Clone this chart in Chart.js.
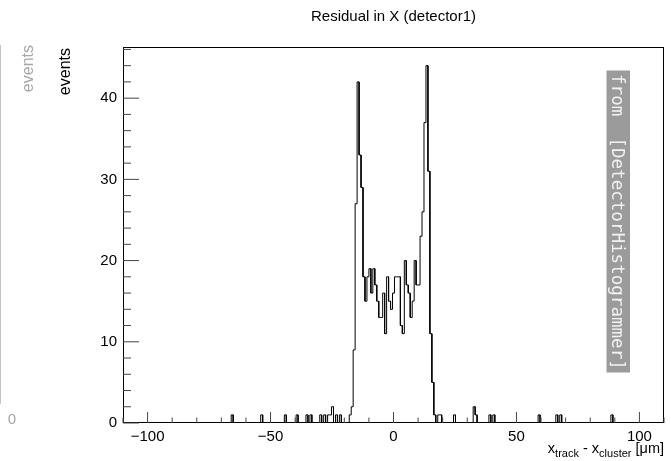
<!DOCTYPE html>
<html lang="en">
<head>
<meta charset="UTF-8">
<title>Residual in X (detector1)</title>
<script src="https://cdn.jsdelivr.net/npm/chart.js"></script>
<style>
    html, body { margin: 0; padding: 0; background: #ffffff; }
    #wrap { width: 671px; height: 461px; }
</style>
</head>
<body>
<div id="wrap"><canvas id="residualChart" width="671" height="461"></canvas></div>
<script>
// binning of the residual histogram (µm)
var xMin = -110;
var xMax = 110;
var binWidth = 0.8;
var yMax = 46.3;

// bins of the central part, starting at bin index 115
var coreFirstBin = 115;
var coreCounts = [1, 2, 9, 27, 42, 33, 29, 18, 15, 18,
                  19, 16, 19, 17, 15, 13, 13, 16, 11, 18,
                  15, 14, 16, 18, 18, 18, 12, 11, 20, 17,
                  16, 13, 15, 20, 17, 17, 23, 26, 37, 44,
                  31, 11, 5, 1, 0, 1, 1];

// single entries out in the tails: position (µm) and count
var tailX = [-65.7, -54, -43.8, -39.5, -35.2, -33.5, -29.8, -28.2, -26.8, -25.7, -24.7, -23.5, -21.4,
             25.1, 32.5, 33.3, 39, 40.6, 59, 66, 67.8, 89];
var tailN = [1, 1, 1, 1, 1, 1, 1, 1, 1, 1, 2, 1, 1,
             1, 2, 1, 1, 1, 1, 1, 1, 1];

var xTicks = [-100, -50, 0, 50, 100];
var yTicks = [0, 10, 20, 30, 40];

var FONT = '"Liberation Sans", Arial, Helvetica, sans-serif';

// fill the bins and turn them into an outline (two points per bin)
var nBins = Math.round((xMax - xMin) / binWidth);
var counts = [];
for (var i = 0; i < nBins; i++) counts.push(0);
coreCounts.forEach(function (c, i) { counts[coreFirstBin + i] = c; });
tailX.forEach(function (x, i) {
    counts[Math.floor((x - xMin) / binWidth)] += tailN[i];
});
var histPoints = [];
counts.forEach(function (c, i) {
    var lo = xMin + i * binWidth;
    histPoints.push({ x: lo, y: c });
    histPoints.push({ x: lo + binWidth, y: c });
});

// ROOT style frame, inner ticks and the extra texts
var rootStyle = {
    id: 'rootStyle',
    afterDatasetsDraw: function (chart) {
        var ctx = chart.ctx;
        var a = chart.chartArea;
        var xs = chart.scales.x;
        var ys = chart.scales.y;
        ctx.save();
        ctx.strokeStyle = '#000';
        ctx.lineWidth = 1;
        ctx.strokeRect(a.left + 0.5, a.top + 0.5, a.right - a.left - 1, a.bottom - a.top - 1);

        ctx.strokeStyle = '#444';
        ctx.beginPath();
        for (var v = 0; v <= yMax; v += 2) {
            var py = ys.getPixelForValue(v);
            var len = (v % 10 === 0) ? 16 : 8;
            ctx.moveTo(a.left, py);
            ctx.lineTo(a.left + len, py);
        }
        for (var u = xMin; u <= xMax; u += 10) {
            var px = xs.getPixelForValue(u);
            var l2 = (u % 50 === 0) ? 11 : 5.5;
            ctx.moveTo(px, a.bottom);
            ctx.lineTo(px, a.bottom - l2);
        }
        ctx.stroke();
        ctx.restore();
    },
    afterDraw: function (chart) {
        var ctx = chart.ctx;
        var a = chart.chartArea;
        ctx.save();

        // title
        ctx.fillStyle = '#000';
        ctx.font = '15px ' + FONT;
        ctx.textAlign = 'center';
        ctx.textBaseline = 'alphabetic';
        ctx.fillText('Residual in X (detector1)', (a.left + a.right) / 2, 21);

        // y title
        ctx.font = '16px ' + FONT;
        ctx.save();
        ctx.translate(70, a.top + 1);
        ctx.rotate(-Math.PI / 2);
        ctx.textAlign = 'right';
        ctx.fillText('events', 0, 0);
        ctx.restore();

        // leftovers of the neighbouring pad
        ctx.fillStyle = '#a6a6a6';
        ctx.save();
        ctx.translate(33, 45);
        ctx.rotate(-Math.PI / 2);
        ctx.textAlign = 'right';
        ctx.fillText('events', 0, 0);
        ctx.restore();
        ctx.font = '15px ' + FONT;
        ctx.textAlign = 'center';
        ctx.fillText('0', 12, 424);
        ctx.strokeStyle = '#c4c4c4';
        ctx.lineWidth = 1;
        ctx.beginPath();
        ctx.moveTo(0.5, 45);
        ctx.lineTo(0.5, 404);
        ctx.stroke();

        // x title with subscripts
        var parts = [
            ['x', 14.5, 0], ['track', 11, 4], [' - x', 14.5, 0], ['cluster', 11, 4], [' [\u03bcm]', 14.5, 0]
        ];
        var total = 0;
        parts.forEach(function (p) {
            ctx.font = p[1] + 'px ' + FONT;
            total += ctx.measureText(p[0]).width;
        });
        var cx = a.right - total;
        ctx.fillStyle = '#000';
        ctx.textAlign = 'left';
        parts.forEach(function (p) {
            ctx.font = p[1] + 'px ' + FONT;
            ctx.fillText(p[0], cx, 453 + p[2]);
            cx += ctx.measureText(p[0]).width;
        });

        // module label box
        ctx.fillStyle = '#9b9b9b';
        ctx.fillRect(606.5, 70.5, 23.5, 302);
        var label = 'from  [DetectorHistogrammer]';
        ctx.font = '17px "DejaVu Sans Mono", monospace';
        var w = ctx.measureText(label).width;
        var size = 17 * 296 / w;
        ctx.font = size.toFixed(2) + 'px "DejaVu Sans Mono", monospace';
        ctx.fillStyle = '#f2f2f2';
        ctx.save();
        ctx.translate(612, 74);
        ctx.rotate(Math.PI / 2);
        ctx.textAlign = 'left';
        ctx.fillText(label, 0, 0);
        ctx.restore();

        ctx.restore();
    }
};

var ctx = document.getElementById('residualChart').getContext('2d');
var residualChart = new Chart(ctx, {
    type: 'line',
    data: {
        datasets: [{
            label: 'residual_x',
            data: histPoints,
            borderColor: '#000',
            borderWidth: 1,
            pointRadius: 0,
            tension: 0,
            fill: false
        }]
    },
    options: {
        responsive: false,
        animation: false,
        devicePixelRatio: 1,
        layout: { padding: { left: 0, top: 47, right: 7, bottom: 0 } },
        plugins: {
            legend: { display: false },
            tooltip: { enabled: false },
            title: { display: false }
        },
        scales: {
            x: {
                type: 'linear',
                min: xMin,
                max: xMax,
                grid: { display: false, drawTicks: false },
                border: { display: false },
                afterBuildTicks: function (scale) {
                    scale.ticks = xTicks.map(function (v) { return { value: v }; });
                },
                afterFit: function (scale) { scale.height = 38; },
                ticks: {
                    padding: 5,
                    maxRotation: 0,
                    autoSkip: false,
                    color: '#000',
                    font: { family: FONT, size: 15 },
                    callback: function (value) {
                        return value < 0 ? '\u2212' + Math.abs(value) : String(value);
                    }
                }
            },
            y: {
                type: 'linear',
                min: 0,
                max: yMax,
                grid: { display: false, drawTicks: false },
                border: { display: false },
                afterBuildTicks: function (scale) {
                    scale.ticks = yTicks.map(function (v) { return { value: v }; });
                },
                afterFit: function (scale) { scale.width = 123; },
                ticks: {
                    padding: 6,
                    color: '#000',
                    font: { family: FONT, size: 15 }
                }
            }
        }
    },
    plugins: [rootStyle]
});
</script>
</body>
</html>
